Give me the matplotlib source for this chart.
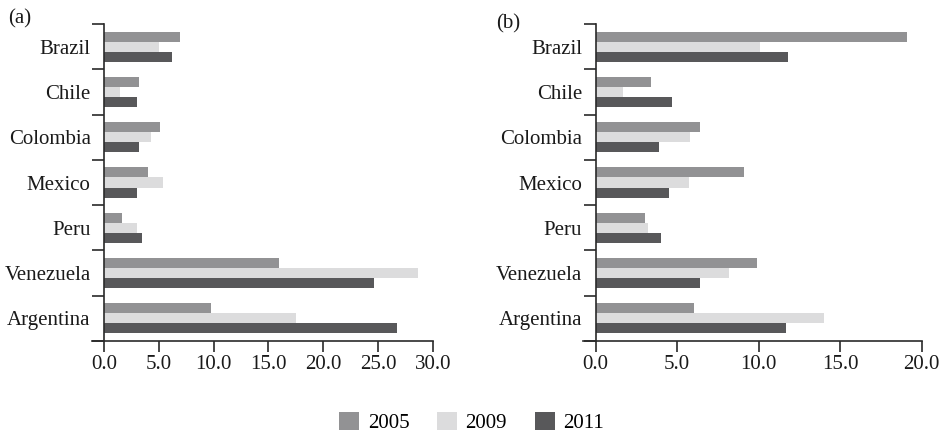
import numpy as np
import matplotlib
matplotlib.use("Agg")
import matplotlib.pyplot as plt
from matplotlib.patches import Patch

plt.rcParams['font.family'] = ['Liberation Serif', 'DejaVu Serif']

countries = ["Brazil", "Chile", "Colombia", "Mexico", "Peru", "Venezuela", "Argentina"]
years = ["2005", "2009", "2011"]

# Panel (a)
a_2005 = [6.9, 3.2, 5.1, 4.0, 1.6, 16.0, 9.8]
a_2009 = [5.0, 1.5, 4.3, 5.4, 3.0, 28.6, 17.5]
a_2011 = [6.2, 3.0, 3.2, 3.0, 3.5, 24.6, 26.7]

# Panel (b)
b_2005 = [19.1, 3.4, 6.4, 9.1, 3.0, 9.9, 6.0]
b_2009 = [10.1, 1.7, 5.8, 5.7, 3.2, 8.2, 14.0]
b_2011 = [11.8, 4.7, 3.9, 4.5, 4.0, 6.4, 11.7]

a_ticks = [0, 5, 10, 15, 20, 25, 30]
b_ticks = [0, 5, 10, 15, 20]

colors = ["#929294", "#dcdcdd", "#58585a"]
axis_color = "#2a2a2a"

W, H = 945, 434
fig = plt.figure(figsize=(W / 100, H / 100), dpi=100)


def panel(rect, series, ticks, xmin, label, label_xy):
    ax = fig.add_axes(rect)
    n = len(countries)
    y = np.arange(n)
    h = 0.222
    for k, vals in enumerate(series):
        ax.barh(y + (k - 1) * h, vals, height=h, color=colors[k], edgecolor="none", zorder=2)
    ax.set_xlim(xmin, ticks[-1])
    ax.set_ylim(n - 0.5, -0.5)
    for s in ["top", "right"]:
        ax.spines[s].set_visible(False)
    ax.spines["left"].set_position(("data", 0))
    for s in ["left", "bottom"]:
        ax.spines[s].set_color(axis_color)
        ax.spines[s].set_linewidth(1.2)
    # category boundaries as ticks, names on minor ticks at the centres
    ax.set_yticks(np.arange(n + 1) - 0.5)
    ax.set_yticklabels([])
    ax.set_yticks(y, minor=True)
    ax.set_yticklabels(countries, minor=True, fontsize=15)
    ax.tick_params(axis="y", which="major", length=8.6, width=1.2, color=axis_color, direction="out")
    ax.tick_params(axis="y", which="minor", length=0, pad=9.6, labelcolor="#1a1a1a")
    ax.set_xticks(ticks)
    ax.set_xticklabels([f"{t:.1f}" for t in ticks], fontsize=15, color="#1a1a1a")
    ax.tick_params(axis="x", length=8, width=1.2, color=axis_color, pad=2)
    fig.text(label_xy[0] / W, 1 - label_xy[1] / H, label, fontsize=15, va="top", ha="left", color="#1a1a1a")
    return ax


# panel (a): 0 at x=104 px, 30 at 433 px, axis starts at 92 px
sa = (433 - 104) / 30
panel([92 / W, 1 - 341 / H, (433 - 92) / W, (341 - 24) / H],
      [a_2005, a_2009, a_2011], a_ticks, -(104 - 92) / sa, "(a)", (8, 9))

# panel (b): 0 at x=595.7 px, 20 at 921.7 px
sb = (921.7 - 595.7) / 20
panel([583.3 / W, 1 - 341 / H, (921.7 - 583.3) / W, (341 - 24) / H],
      [b_2005, b_2009, b_2011], b_ticks, -(595.7 - 583.3) / sb, "(b)", (496, 14))

handles = [Patch(facecolor=c, edgecolor="none") for c in colors]
fig.legend(handles, years, loc="center", bbox_to_anchor=(471.5 / W, 1 - 422.5 / H),
           ncol=3, frameon=False, fontsize=15, handlelength=0.96, handleheight=0.96,
           handletextpad=0.4, columnspacing=1.33, borderpad=0, borderaxespad=0)

fig.savefig("out.png", dpi=100)
